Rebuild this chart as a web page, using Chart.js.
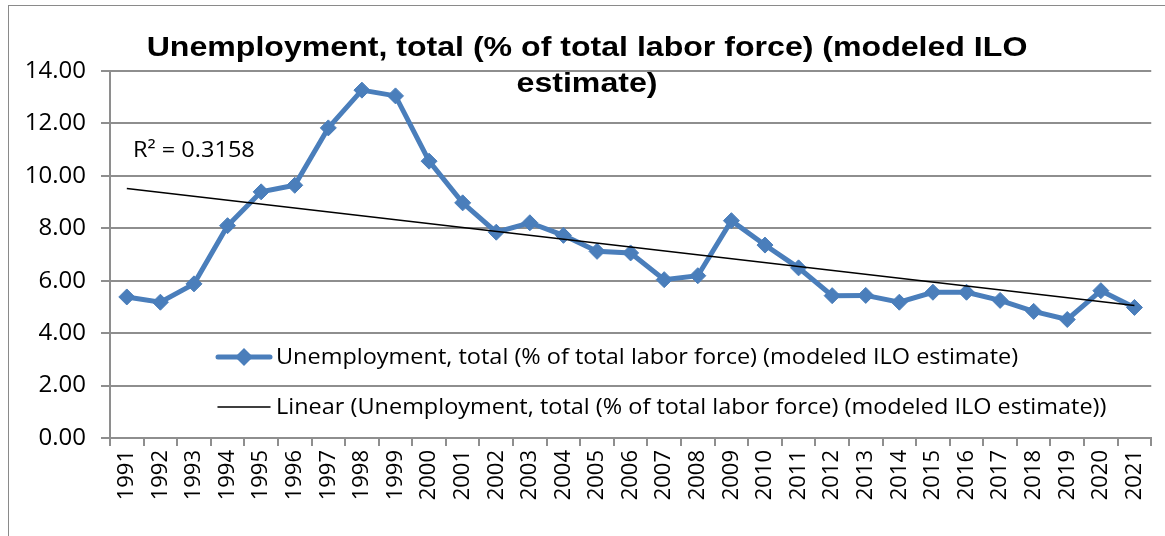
<!DOCTYPE html>
<html>
<head>
<meta charset="utf-8">
<script src="https://cdn.jsdelivr.net/npm/chart.js@4.4.1/dist/chart.umd.min.js"></script>
<style>
  html, body { margin: 0; padding: 0; background: #fff; }
  #wrap { width: 1165px; height: 536px; position: relative; }
</style>
</head>
<body>
<div id="wrap"><canvas id="chart"></canvas></div>
<script>
/* ── Data ── */
const years = ['1991','1992','1993','1994','1995','1996','1997','1998','1999','2000',
  '2001','2002','2003','2004','2005','2006','2007','2008','2009','2010',
  '2011','2012','2013','2014','2015','2016','2017','2018','2019','2020','2021'];

const unemployment = [5.38, 5.18, 5.88, 8.10, 9.39, 9.64, 11.83, 13.27, 13.05, 10.56,
  8.97, 7.85, 8.21, 7.73, 7.12, 7.06, 6.04, 6.19, 8.29, 7.36,
  6.49, 5.43, 5.44, 5.18, 5.56, 5.56, 5.25, 4.83, 4.52, 5.62, 4.98];

// trend line end points
const trendYears = ['1991', '2021'];
const trendValues = [9.52, 5.05];

const yTicks = [0, 2, 4, 6, 8, 10, 12, 14];

const seriesLabel = 'Unemployment, total (% of total labor force) (modeled ILO estimate)';
const trendLabel = 'Linear (Unemployment, total (% of total labor force) (modeled ILO estimate))';
const titleLines = ['Unemployment, total (% of total labor force) (modeled ILO', 'estimate)'];
const r2Text = 'R\u00B2 = 0.3158';

const BLUE = '#4A7EBB';
const GRID = '#8e8e8e';
const FONT = "'Open Sans', sans-serif";

// text drawn a little wider than the font, like the stretched original
function wideText(c, text, x, y, sx, align) {
  c.save();
  c.translate(x, y);
  c.scale(sx, 1);
  c.textAlign = align;
  c.fillText(text, 0, 0);
  c.restore();
}

/* ── Plugins: frame, title, legend, R² ── */
const decorations = {
  id: 'decorations',
  beforeDraw(chart) {
    const c = chart.ctx;
    c.save();
    c.fillStyle = '#fff';
    c.fillRect(0, 0, chart.width, chart.height);
    c.strokeStyle = '#8a8a8a';
    c.lineWidth = 1;
    c.strokeRect(8.5, 5.5, chart.width + 20, chart.height + 20);
    c.restore();
  },
  afterDraw(chart) {
    const c = chart.ctx;
    c.save();
    // title
    c.fillStyle = '#000';
    c.font = "bold 28px 'Liberation Sans', Arial, sans-serif";
    c.textBaseline = 'alphabetic';
    wideText(c, titleLines[0], 587, 56, 1.146, 'center');
    wideText(c, titleLines[1], 587, 92, 1.146, 'center');

    // R² label
    c.font = '21px ' + FONT;
    wideText(c, r2Text, 133, 157, 1.12, 'left');

    // legend
    const ds = chart.data.datasets;
    c.font = '21px ' + FONT;
    c.textBaseline = 'middle';
    const items = [
      { d: ds.find(d => d.label === seriesLabel), y: 357 },
      { d: ds.find(d => d.label === trendLabel), y: 407 }
    ];
    items.forEach(it => {
      c.strokeStyle = it.d.borderColor;
      c.lineWidth = it.d.borderWidth;
      c.lineCap = 'round';
      c.beginPath();
      c.moveTo(218, it.y);
      c.lineTo(270, it.y);
      c.stroke();
      if (it.d.pointRadius > 0) {
        const r = it.d.pointRadius + 1;
        c.fillStyle = it.d.pointBackgroundColor;
        c.beginPath();
        c.moveTo(244 - r, it.y);
        c.lineTo(244, it.y - r);
        c.lineTo(244 + r, it.y);
        c.lineTo(244, it.y + r);
        c.closePath();
        c.fill();
      }
      c.fillStyle = '#000';
      wideText(c, it.d.label, 276, it.y + 1, 1.118, 'left');
    });
    c.restore();
  }
};

new Chart(document.getElementById('chart'), {
  type: 'line',
  data: {
    labels: years,
    datasets: [
      {
        label: seriesLabel,
        data: unemployment,
        borderColor: BLUE,
        backgroundColor: BLUE,
        borderWidth: 5,
        pointStyle: 'rectRot',
        pointRadius: 8,
        pointBackgroundColor: BLUE,
        pointBorderColor: BLUE,
        pointBorderWidth: 1,
        tension: 0,
        order: 1
      },
      {
        label: trendLabel,
        data: trendYears.map((y, i) => ({ x: y, y: trendValues[i] })),
        borderColor: '#000',
        borderWidth: 1.5,
        pointRadius: 0,
        tension: 0,
        order: 0
      }
    ]
  },
  options: {
    responsive: true,
    maintainAspectRatio: false,
    animation: false,
    layout: { padding: { top: 71, left: 0, right: 0, bottom: 0 } },
    plugins: {
      legend: { display: false },
      title: { display: false },
      tooltip: { enabled: false }
    },
    scales: {
      x: {
        type: 'category',
        offset: true,
        grid: {
          offset: true,
          drawOnChartArea: false,
          drawTicks: true,
          tickLength: 8,
          color: GRID,
          lineWidth: 2
        },
        border: { color: GRID, width: 2 },
        ticks: {
          color: '#000',
          font: { family: FONT, size: 22 },
          minRotation: 90,
          maxRotation: 90,
          padding: 4,
          autoSkip: false
        },
        afterFit(scale) { scale.height = 98; }
      },
      y: {
        min: 0,
        max: 14,
        afterBuildTicks(scale) { scale.ticks = yTicks.map(v => ({ value: v })); },
        grid: {
          color: GRID,
          lineWidth: 2,
          drawTicks: true,
          tickLength: 9
        },
        border: { color: GRID, width: 2 },
        ticks: {
          color: '#000',
          font: { family: FONT, size: 24 },
          padding: 15,
          callback: v => v.toFixed(2)
        },
        afterFit(scale) { scale.width = 110; }
      }
    }
  },
  plugins: [decorations]
});
</script>
</body>
</html>
